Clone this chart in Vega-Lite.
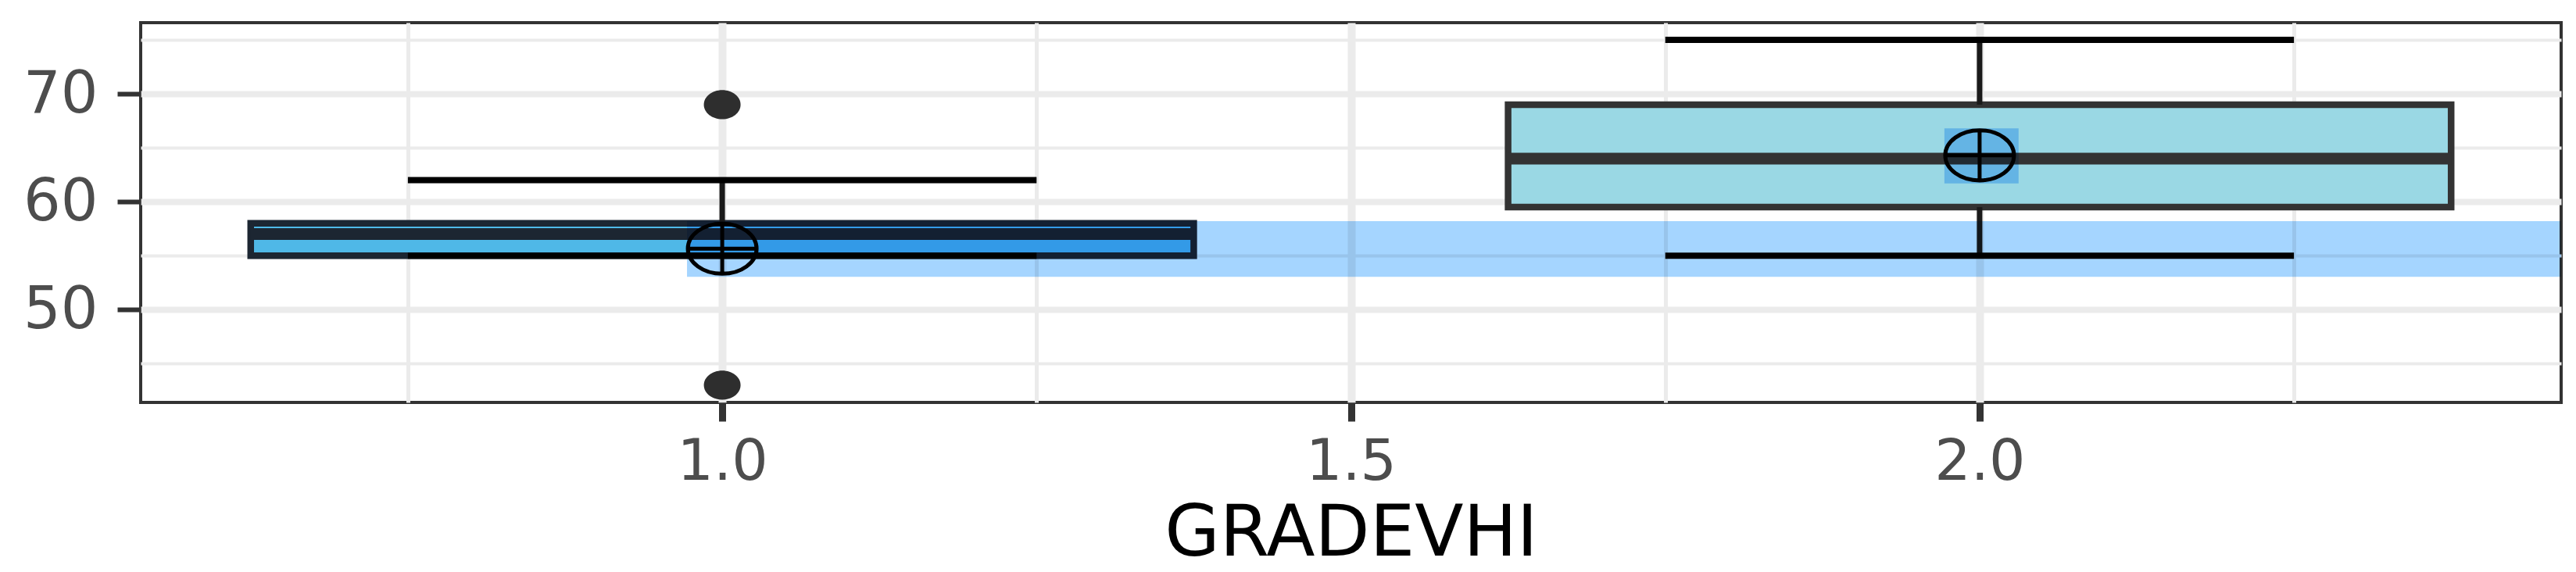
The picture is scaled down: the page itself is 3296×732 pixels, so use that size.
{
  "$schema": "https://vega.github.io/schema/vega-lite/v6.json",
  "autosize": {"type": "none"},
  "width": 3097,
  "height": 486,
  "padding": {"left": 180, "top": 29, "right": 19, "bottom": 217},
  "background": "white",
  "config": {
    "view": {"stroke": "#333333", "strokeWidth": 4},
    "axis": {"domain": false}
  },
  "datasets": {
    "boxes": [
      {"GRADEVHI": 1, "grp": "1", "xmin": 0.625, "xmax": 1.375, "capmin": 0.75, "capmax": 1.25, "lower": 55, "q1": 55, "median": 57, "q3": 58, "upper": 62, "mean": 55.65},
      {"GRADEVHI": 2, "grp": "2", "xmin": 1.625, "xmax": 2.375, "capmin": 1.75, "capmax": 2.25, "lower": 55, "q1": 59.5, "median": 64, "q3": 69, "upper": 75, "mean": 64.3}
    ],
    "outliers": [
      {"GRADEVHI": 1, "value": 69},
      {"GRADEVHI": 1, "value": 43}
    ],
    "ci": [
      {"grp": "1", "x1": 0.972, "x2": 2.4625, "y1": 53.05, "y2": 58.2},
      {"grp": "2", "x1": 1.972, "x2": 2.031, "y1": 61.7, "y2": 66.8}
    ]
  },
  "layer": [
    {
      "data": {"name": "boxes"},
      "mark": {"type": "rect", "strokeWidth": 8.5, "strokeJoin": "miter"},
      "encoding": {
        "x": {"field": "xmin", "type": "quantitative",
          "scale": {"domain": [0.5375, 2.4625], "nice": false, "zero": false},
          "axis": {
            "title": "GRADEVHI",
            "values": [0.75, 1, 1.25, 1.5, 1.75, 2, 2.25],
            "format": ".1f",
            "labelExpr": "(datum.value * 2) % 1 === 0 ? datum.label : ''",
            "labelFont": "DejaVu Sans", "labelFontSize": 73, "labelColor": "#4d4d4d",
            "labelPadding": 16,
            "tickSize": 24,
            "tickColor": "#333333",
            "tickWidth": 9,
            "tickOpacity": {"condition": {"test": "(datum.value * 2) % 1 === 0", "value": 1}, "value": 0},
            "grid": true,
            "gridColor": "#ebebeb",
            "gridWidth": {"condition": {"test": "(datum.value * 2) % 1 === 0", "value": 10}, "value": 5},
            "titleFont": "DejaVu Sans", "titleFontSize": 91, "titleFontWeight": "normal", "titleColor": "#000000",
            "titleBaseline": "alphabetic", "titleY": 195
          }},
        "x2": {"field": "xmax"},
        "y": {"field": "q1", "type": "quantitative",
          "scale": {"domain": [41.4, 76.6], "nice": false, "zero": false},
          "axis": {
            "title": null,
            "values": [45, 50, 55, 60, 65, 70, 75],
            "labelExpr": "datum.value % 10 === 0 ? datum.label : ''",
            "labelFont": "DejaVu Sans", "labelFontSize": 75, "labelColor": "#4d4d4d",
            "labelPadding": 25,
            "tickSize": 30,
            "tickColor": "#333333",
            "tickWidth": 6,
            "tickOpacity": {"condition": {"test": "datum.value % 10 === 0", "value": 1}, "value": 0},
            "grid": true,
            "gridColor": "#ebebeb",
            "gridWidth": {"condition": {"test": "datum.value % 10 === 0", "value": 8}, "value": 4}
          }},
        "y2": {"field": "q3"},
        "fill": {"field": "grp", "type": "nominal", "scale": {"domain": ["1", "2"], "range": ["#4fb8e7", "#9ad8e4"]}, "legend": null},
        "stroke": {"field": "grp", "type": "nominal", "scale": {"domain": ["1", "2"], "range": ["#1c2632", "#333333"]}, "legend": null}
      }
    },
    {
      "data": {"name": "boxes"},
      "mark": {"type": "rule", "strokeWidth": 15},
      "encoding": {
        "x": {"field": "xmin", "type": "quantitative"},
        "x2": {"field": "xmax"},
        "y": {"field": "median", "type": "quantitative"},
        "stroke": {"field": "grp", "type": "nominal", "legend": null}
      }
    },
    {
      "data": {"name": "boxes"},
      "mark": {"type": "rule", "strokeWidth": 7, "color": "#1a1a1a"},
      "encoding": {
        "x": {"field": "GRADEVHI", "type": "quantitative"},
        "y": {"field": "q3", "type": "quantitative"},
        "y2": {"field": "upper"}
      }
    },
    {
      "data": {"name": "boxes"},
      "mark": {"type": "rule", "strokeWidth": 7, "color": "#1a1a1a"},
      "encoding": {
        "x": {"field": "GRADEVHI", "type": "quantitative"},
        "y": {"field": "lower", "type": "quantitative"},
        "y2": {"field": "q1"}
      }
    },
    {
      "data": {"name": "boxes"},
      "mark": {"type": "rule", "strokeWidth": 8, "color": "#000000"},
      "encoding": {
        "x": {"field": "capmin", "type": "quantitative"},
        "x2": {"field": "capmax"},
        "y": {"field": "upper", "type": "quantitative"}
      }
    },
    {
      "data": {"name": "boxes"},
      "mark": {"type": "rule", "strokeWidth": 8, "color": "#000000"},
      "encoding": {
        "x": {"field": "capmin", "type": "quantitative"},
        "x2": {"field": "capmax"},
        "y": {"field": "lower", "type": "quantitative"}
      }
    },
    {
      "data": {"name": "outliers"},
      "mark": {"type": "point", "filled": true, "opacity": 1, "color": "#2e2e2e", "size": 2209,
        "shape": "M-1,0A1,0.79 0 1,1 1,0A1,0.79 0 1,1 -1,0Z"},
      "encoding": {
        "x": {"field": "GRADEVHI", "type": "quantitative"},
        "y": {"field": "value", "type": "quantitative"}
      }
    },
    {
      "data": {"name": "ci"},
      "mark": {"type": "rect", "color": "#a5d5ff", "blend": "multiply"},
      "encoding": {
        "x": {"field": "x1", "type": "quantitative"},
        "x2": {"field": "x2"},
        "y": {"field": "y1", "type": "quantitative"},
        "y2": {"field": "y2"}
      }
    },
    {
      "data": {"name": "boxes"},
      "mark": {"type": "point", "filled": false, "opacity": 1, "color": "#000000", "strokeWidth": 5, "size": 7744,
        "shape": "M-1,0A1,0.73 0 1,1 1,0A1,0.73 0 1,1 -1,0Z M-1,0L1,0 M0,-0.73L0,0.73"},
      "encoding": {
        "x": {"field": "GRADEVHI", "type": "quantitative"},
        "y": {"field": "mean", "type": "quantitative"}
      }
    }
  ]
}
